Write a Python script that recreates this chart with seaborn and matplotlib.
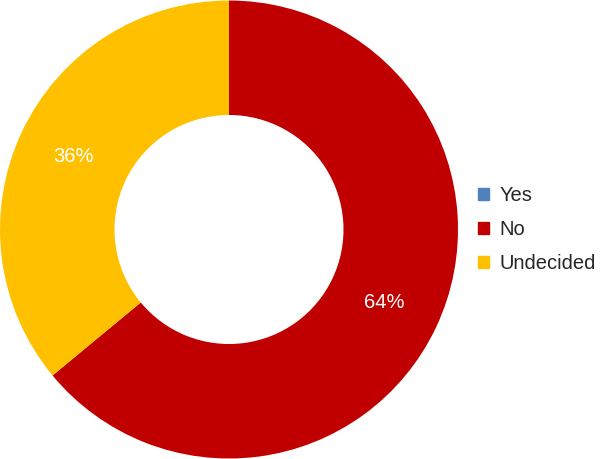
import matplotlib
matplotlib.use("Agg")
import matplotlib.pyplot as plt
import matplotlib.patches as mpatches
import seaborn as sns

categories = ["Yes", "No", "Undecided"]
values = [0, 64, 36]
colors = ["#4F81BD", "#C00000", "#FFC000"]

sns.set_style("white")
plt.rcParams['font.family'] = ['Liberation Sans', 'DejaVu Sans']

fig = plt.figure(figsize=(6, 4.59), dpi=100)
ax = fig.add_axes([0.0, 0.0, 458/600, 1.0])

wedges, texts, autotexts = ax.pie(
    values, colors=colors, startangle=90, counterclock=False,
    radius=1.0, wedgeprops=dict(width=0.5, edgecolor='none'),
    autopct=lambda p: f"{p:.0f}%" if p > 0 else "", pctdistance=0.75,
    textprops=dict(color="white", fontsize=14.5))
ax.set_aspect('equal')
ax.set_xlim(-1, 1)
ax.set_ylim(-1, 1)
ax.axis('off')

handles = [mpatches.Patch(color=c, label=l) for c, l in zip(colors, categories)]
fig.legend(handles=handles, loc='center left', bbox_to_anchor=(0.797, 0.5),
           frameon=False, fontsize=14.5, handlelength=0.55, handleheight=0.55,
           handletextpad=0.5, labelspacing=0.75, borderaxespad=0, borderpad=0)

fig.savefig("out.png", dpi=100)
